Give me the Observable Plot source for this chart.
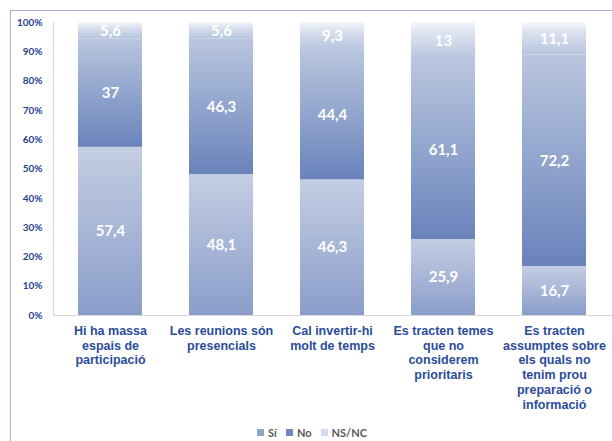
<!DOCTYPE html>
<html>
<head>
<meta charset="utf-8">
<script src="https://cdn.jsdelivr.net/npm/d3@7"></script>
<script src="https://cdn.jsdelivr.net/npm/@observablehq/plot@0.6"></script>
<style>
  html, body { margin: 0; padding: 0; background: #fff; }
  #wrap { position: relative; width: 612px; height: 441px; overflow: hidden; }
  #frame { position: absolute; left: 10px; top: 10px; width: 700px; height: 500px; border: 1.5px solid #a3b4d6; box-sizing: border-box; pointer-events: none; }
  #chart { position: absolute; left: 0; top: 0; }
  #legend { position: absolute; left: 0; top: 424px; width: 612px; height: 17px; display: flex; justify-content: center; gap: 9px; font: bold 11px Lato, sans-serif; color: #595959; padding-left: 12px; box-sizing: border-box; }
  #legend span.item { display: inline-flex; align-items: center; }
  #legend span.sw { display: inline-block; width: 7px; height: 7px; margin-right: 4px; }
</style>
</head>
<body>
<div id="wrap">
  <svg width="0" height="0" style="position:absolute">
    <defs>
      <linearGradient id="gSi" x1="0" y1="0" x2="0" y2="1">
        <stop offset="0" stop-color="#c4cee3"/>
        <stop offset="1" stop-color="#8a9dca"/>
      </linearGradient>
      <linearGradient id="gNo" x1="0" y1="0" x2="0" y2="1">
        <stop offset="0" stop-color="#b9c6df"/>
        <stop offset="1" stop-color="#6983bb"/>
      </linearGradient>
      <linearGradient id="gNs" x1="0" y1="0" x2="0" y2="1">
        <stop offset="0" stop-color="#f6f8fc"/>
        <stop offset="0.25" stop-color="#dfe5f1"/>
        <stop offset="1" stop-color="#b6c4de"/>
      </linearGradient>
    </defs>
  </svg>
  <div id="chart"></div>
  <div id="frame"></div>
  <div id="legend"></div>
</div>
<script>
const categories = [
  "Hi ha massa espais de participació",
  "Les reunions són presencials",
  "Cal invertir-hi molt de temps",
  "Es tracten temes que no considerem prioritaris",
  "Es tracten assumptes sobre els quals no tenim prou preparació o informació"
];
const tickLabels = [
  "Hi ha massa\nespais de\nparticipació",
  "Les reunions són\npresencials",
  "Cal invertir-hi\nmolt de temps",
  "Es tracten temes\nque no\nconsiderem\nprioritaris",
  "Es tracten\nassumptes sobre\nels quals no\ntenim prou\npreparació o\ninformació"
];
const series = ["Sí", "No", "NS/NC"];
const si   = [57.4, 48.1, 46.3, 25.9, 16.7];
const no   = [37, 46.3, 44.4, 61.1, 72.2];
const nsnc = [5.6, 5.6, 9.3, 13, 11.1];
const yTicks = [0, 10, 20, 30, 40, 50, 60, 70, 80, 90, 100];

const seriesValues = [si, no, nsnc];
const fills = ["url(#gSi)", "url(#gNo)", "url(#gNs)"];
const swatches = ["#8fa3cd", "#6f88bf", "#d3dbec"];

const rows = [];
series.forEach((s, j) => categories.forEach((c, i) => rows.push({cat: c, series: s, value: seriesValues[j][i]})));

const fmt = v => String(v).replace(".", ",");
const labelOf = new Map(categories.map((c, i) => [c, tickLabels[i]]));

const chart = Plot.plot({
  width: 612,
  height: 424,
  marginLeft: 53,
  marginRight: 0,
  marginTop: 22,
  marginBottom: 109,
  style: {background: "transparent", overflow: "visible"},
  x: {domain: categories, paddingInner: 0.42, paddingOuter: 0.21, axis: null},
  y: {domain: [0, 100], axis: null},
  color: {domain: series, range: fills},
  marks: [
    Plot.barY(rows, Plot.stackY({x: "cat", y: "value", z: "series", order: series, fill: "series"})),
    Plot.text(rows, Plot.stackY({x: "cat", y: "value", z: "series", order: series, text: d => fmt(d.value), fill: "white", fontSize: 15, fontWeight: "bold", fontFamily: "Lato, sans-serif"})),
    Plot.ruleY([0], {stroke: "#d9d9d9", strokeWidth: 1.2}),
    Plot.frame({anchor: "left", stroke: "#d9d9d9", strokeWidth: 1.2}),
    Plot.axisY({ticks: yTicks, tickSize: 0, tickPadding: 11, tickFormat: d => d + "%", fontSize: 10, fontWeight: "bold", fontFamily: "Lato, sans-serif", fill: "#1f3f8c", label: null}),
    Plot.axisX({tickSize: 0, tickPadding: 9, tickFormat: d => labelOf.get(d), fontSize: 12.5, fontWeight: "bold", fontFamily: "Liberation Sans, Arial, sans-serif", fill: "#2b4c9b", lineHeight: 1.18, label: null})
  ]
});
document.getElementById("chart").appendChild(chart);

const legend = document.getElementById("legend");
series.forEach((s, j) => {
  const item = document.createElement("span");
  item.className = "item";
  const sw = document.createElement("span");
  sw.className = "sw";
  sw.style.background = swatches[j];
  item.appendChild(sw);
  item.appendChild(document.createTextNode(s));
  legend.appendChild(item);
});
</script>
</body>
</html>
